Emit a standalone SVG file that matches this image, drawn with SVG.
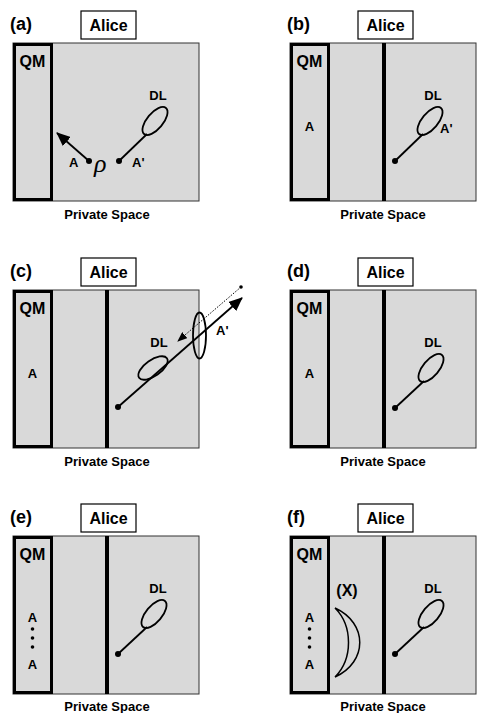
<svg xmlns="http://www.w3.org/2000/svg" width="480" height="713" viewBox="0 0 480 713">
<style>
text{font-family:"Liberation Sans",Arial,sans-serif;font-weight:bold;fill:#000}
.lbl{font-size:18px}
.alice{font-size:16px;text-anchor:middle}
.qm{font-size:16px;text-anchor:middle}
.ps{font-size:13px;text-anchor:middle}
.sm{font-size:13px}
.mid{text-anchor:middle}
.box{fill:#d9d9d9;stroke:#333;stroke-width:1}
.qmbox{fill:none;stroke:#000;stroke-width:3}
.abox{fill:#fff;stroke:#000;stroke-width:1.2}
.div{stroke:#000;stroke-width:4}
.loop{fill:none;stroke:#000;stroke-width:1.8}
.ln{stroke:#000;stroke-width:1.8;fill:none}
.dot{fill:#000}
.dash{stroke:#000;stroke-width:1;stroke-dasharray:1.5 1.5;fill:none}
</style>
<defs>
<marker id="ah" markerUnits="userSpaceOnUse" markerWidth="14" markerHeight="12" viewBox="0 0 14 12" refX="13" refY="6" orient="auto">
<path d="M0,0 L14,6 L0,12 Z" fill="#000"/>
</marker>
<marker id="ahs" markerUnits="userSpaceOnUse" markerWidth="10" markerHeight="8" viewBox="0 0 10 8" refX="9" refY="4" orient="auto">
<path d="M0,0 L10,4 L0,8 Z" fill="#000"/>
</marker>
</defs>

<!-- Panel (a) -->
<g id="panel-a">
<text class="lbl" x="10" y="30">(a)</text>
<g id="alice-a"><rect class="abox" x="81" y="11" width="55" height="28"/><text class="alice" x="108.5" y="31">Alice</text></g>
<rect class="box" x="13" y="43" width="186" height="158"/>
<g id="qm-a"><rect class="qmbox" x="14.5" y="44.5" width="37" height="155"/><text class="qm" x="32.5" y="67">QM</text></g>
<g id="dl-a"><text class="sm mid" x="158" y="100">DL</text><ellipse class="loop" cx="155" cy="121" rx="17" ry="8" transform="rotate(-50 155 121)"/></g>
<g id="conn-a">
<line class="ln" x1="89" y1="161" x2="57" y2="133" marker-end="url(#ah)"/>
<line class="ln" x1="119" y1="161" x2="147" y2="134"/>
<circle class="dot" cx="89" cy="161" r="3"/>
<circle class="dot" cx="119" cy="161" r="3"/>
</g>
<text class="sm" x="69" y="167">A</text>
<text class="sm" x="132" y="167">A'</text>
<text x="94" y="172" style="font-family:'Liberation Serif',serif;font-style:italic;font-weight:normal;font-size:26px">ρ</text>
<text class="ps" x="107" y="219">Private Space</text>
</g>

<!-- Panel (b) -->
<g id="panel-b" transform="translate(277,0)">
<text class="lbl" x="10" y="30">(b)</text>
<g id="alice-b"><rect class="abox" x="81" y="11" width="55" height="28"/><text class="alice" x="108.5" y="31">Alice</text></g>
<rect class="box" x="13" y="43" width="186" height="158"/>
<g id="qm-b"><rect class="qmbox" x="14.5" y="44.5" width="37" height="155"/><text class="qm" x="32.5" y="67">QM</text><text class="sm mid" x="32.5" y="131">A</text></g>
<line class="div" x1="107" y1="43" x2="107" y2="201"/>
<g id="dl-b"><text class="sm mid" x="156" y="100">DL</text><ellipse class="loop" cx="153" cy="121" rx="17" ry="8" transform="rotate(-50 153 121)"/></g>
<g id="conn-b">
<line class="ln" x1="118" y1="161" x2="146" y2="134"/>
<circle class="dot" cx="118" cy="161" r="3"/>
</g>
<text class="sm" x="163" y="133">A'</text>
<text class="ps" x="106" y="219">Private Space</text>
</g>

<!-- Panel (c) -->
<g id="panel-c" transform="translate(0,247)">
<text class="lbl" x="10" y="30">(c)</text>
<g id="alice-c"><rect class="abox" x="81" y="11" width="55" height="28"/><text class="alice" x="108.5" y="31">Alice</text></g>
<rect class="box" x="13" y="43" width="186" height="158"/>
<g id="qm-c"><rect class="qmbox" x="14.5" y="44.5" width="37" height="155"/><text class="qm" x="32.5" y="67">QM</text><text class="sm mid" x="32.5" y="131">A</text></g>
<line class="div" x1="107" y1="43" x2="107" y2="201"/>
<g id="dl-c"><text class="sm mid" x="159" y="100">DL</text><ellipse class="loop" cx="153" cy="121" rx="17" ry="8" transform="rotate(-35 153 121)"/></g>
<ellipse id="lens-c" class="loop" cx="199.5" cy="88.5" rx="6.5" ry="23"/>
<g id="conn-c">
<line class="ln" x1="118" y1="160" x2="242" y2="51" marker-end="url(#ah)"/>
<line class="dash" x1="241" y1="40" x2="178" y2="94" marker-end="url(#ahs)"/>
<circle class="dot" cx="118" cy="160" r="3"/>
<circle class="dot" cx="241" cy="40" r="1.8"/>
</g>
<text class="sm" x="216" y="88">A'</text>
<text class="ps" x="107" y="219">Private Space</text>
</g>

<!-- Panel (d) -->
<g id="panel-d" transform="translate(277,247)">
<text class="lbl" x="10" y="30">(d)</text>
<g id="alice-d"><rect class="abox" x="81" y="11" width="55" height="28"/><text class="alice" x="108.5" y="31">Alice</text></g>
<rect class="box" x="13" y="43" width="186" height="158"/>
<g id="qm-d"><rect class="qmbox" x="14.5" y="44.5" width="37" height="155"/><text class="qm" x="32.5" y="67">QM</text><text class="sm mid" x="32.5" y="131">A</text></g>
<line class="div" x1="107" y1="43" x2="107" y2="201"/>
<g id="dl-d"><text class="sm mid" x="156" y="100">DL</text><ellipse class="loop" cx="154" cy="121" rx="17" ry="8" transform="rotate(-50 154 121)"/></g>
<g id="conn-d">
<line class="ln" x1="118" y1="161" x2="147" y2="134"/>
<circle class="dot" cx="118" cy="161" r="3"/>
</g>
<text class="ps" x="106" y="219">Private Space</text>
</g>

<!-- Panel (e) -->
<g id="panel-e" transform="translate(0,493)">
<text class="lbl" x="10" y="30">(e)</text>
<g id="alice-e"><rect class="abox" x="81" y="11" width="55" height="28"/><text class="alice" x="108.5" y="31">Alice</text></g>
<rect class="box" x="13" y="43" width="186" height="158"/>
<g id="qm-e"><rect class="qmbox" x="14.5" y="44.5" width="37" height="155"/><text class="qm" x="32.5" y="67">QM</text>
<text class="sm mid" x="32.5" y="129">A</text>
<circle class="dot" cx="32.5" cy="136" r="1.8"/><circle class="dot" cx="32.5" cy="145" r="1.8"/><circle class="dot" cx="32.5" cy="154" r="1.8"/>
<text class="sm mid" x="32.5" y="176">A</text></g>
<line class="div" x1="107" y1="43" x2="107" y2="201"/>
<g id="dl-e"><text class="sm mid" x="158" y="100">DL</text><ellipse class="loop" cx="154" cy="121" rx="17" ry="8" transform="rotate(-50 154 121)"/></g>
<g id="conn-e">
<line class="ln" x1="118" y1="161" x2="147" y2="134"/>
<circle class="dot" cx="118" cy="161" r="3"/>
</g>
<text class="ps" x="107" y="218">Private Space</text>
</g>

<!-- Panel (f) -->
<g id="panel-f" transform="translate(277,493)">
<text class="lbl" x="10" y="30">(f)</text>
<g id="alice-f"><rect class="abox" x="81" y="11" width="55" height="28"/><text class="alice" x="108.5" y="31">Alice</text></g>
<rect class="box" x="13" y="43" width="186" height="158"/>
<g id="qm-f"><rect class="qmbox" x="14.5" y="44.5" width="37" height="155"/><text class="qm" x="32.5" y="67">QM</text>
<text class="sm mid" x="32.5" y="129">A</text>
<circle class="dot" cx="32.5" cy="136" r="1.8"/><circle class="dot" cx="32.5" cy="145" r="1.8"/><circle class="dot" cx="32.5" cy="154" r="1.8"/>
<text class="sm mid" x="32.5" y="176">A</text></g>
<line class="div" x1="107" y1="43" x2="107" y2="201"/>
<g id="x-f"><text class="alice" x="70" y="103">(X)</text>
<path class="loop" style="stroke-width:1.5" d="M58,115 C91,130 91,169 58,184 C76,166 76,133 58,115 Z"/></g>
<g id="dl-f"><text class="sm mid" x="156" y="100">DL</text><ellipse class="loop" cx="154" cy="121" rx="17" ry="8" transform="rotate(-50 154 121)"/></g>
<g id="conn-f">
<line class="ln" x1="118" y1="161" x2="147" y2="134"/>
<circle class="dot" cx="118" cy="161" r="3"/>
</g>
<text class="ps" x="106" y="218">Private Space</text>
</g>
</svg>
